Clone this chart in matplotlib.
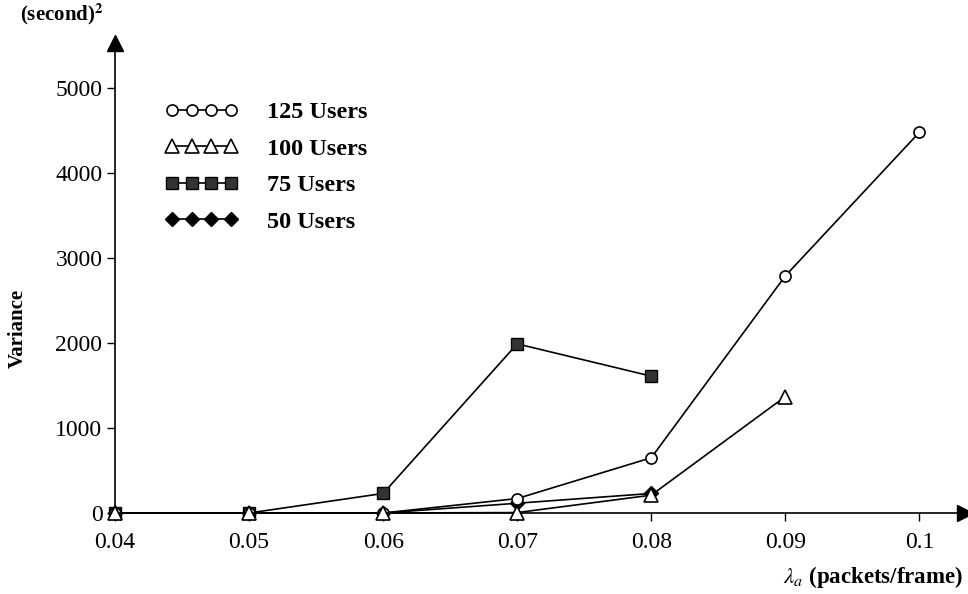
import matplotlib.pyplot as plt

plt.rcParams['font.family'] = ['Liberation Serif', 'DejaVu Serif']
plt.rcParams['mathtext.fontset'] = 'stix'

lam = [0.04, 0.05, 0.06, 0.07, 0.08, 0.09, 0.1]
users125 = [0, 0, 0, 170, 650, 2790, 4480]
users100 = [0, 0, 0, 5, 210, 1370]
users75 = [0, 0, 230, 1990, 1610]
users50 = [0, 0, 0, 115, 230]

fig = plt.figure(figsize=(9.68, 5.94), dpi=100)
ax = fig.add_axes([115 / 968, 81 / 594, 850 / 968, 470 / 594])

ax.plot(lam[:len(users50)], users50, color='black', lw=1.2, marker='D',
        ms=7, mfc='black', mec='black', label='50 Users', zorder=3, clip_on=False)
ax.plot(lam[:len(users125)], users125, color='black', lw=1.2, marker='o',
        ms=8, mfc='white', mec='black', mew=1.2, label='125 Users', zorder=4,
        clip_on=False)
ax.plot(lam[:len(users75)], users75, color='black', lw=1.2, marker='s',
        ms=9, mfc='#333333', mec='black', label='75 Users', zorder=3, clip_on=False)
ax.plot(lam[:len(users100)], users100, color='black', lw=1.2, marker='^',
        ms=10, mfc='white', mec='black', mew=1.2, label='100 Users', zorder=5,
        clip_on=False)

ax.set_xlim(0.04, 0.1034)
ax.set_ylim(0, 5530)
ax.set_xticks(lam)
ax.set_xticklabels(['0.04', '0.05', '0.06', '0.07', '0.08', '0.09', '0.1'])
ax.set_yticks([0, 1000, 2000, 3000, 4000, 5000])
ax.tick_params(axis='both', labelsize=17, direction='out', length=6, width=1)
ax.tick_params(axis='x', pad=8)
ax.tick_params(axis='y', pad=3)

for s in ['top', 'right']:
    ax.spines[s].set_visible(False)
ax.spines['left'].set_linewidth(1.2)
ax.spines['bottom'].set_linewidth(1.2)

# arrow heads at axis ends
ax.plot(1, 0, '>', color='black', ms=11, transform=ax.transAxes, clip_on=False)
ax.plot(0, 1, '^', color='black', ms=11, transform=ax.transAxes, clip_on=False)

handles, labels = ax.get_legend_handles_labels()
order = [1, 3, 2, 0]
ax.legend([handles[i] for i in order], [labels[i] for i in order],
          loc='upper left', bbox_to_anchor=(0.033, 0.923), frameon=False,
          numpoints=4, handlelength=3.0, handletextpad=1.2, labelspacing=0.6,
          prop={'weight': 'bold', 'size': 17.5})

fig.text(18 / 968, 1 - 328 / 594, 'Variance', rotation=90, ha='center', va='center',
         fontsize=15, fontweight='bold')
fig.text(62 / 968, 1 - 14 / 594, '(second)$^{\\mathbf{2}}$', ha='center', va='center',
         fontsize=15, fontweight='bold')
fig.text(963 / 968, 1 - 577 / 594, '$\\lambda_a$ (packets/frame)', ha='right',
         va='center', fontsize=16.5, fontweight='bold')

fig.savefig('out.png', dpi=100)
